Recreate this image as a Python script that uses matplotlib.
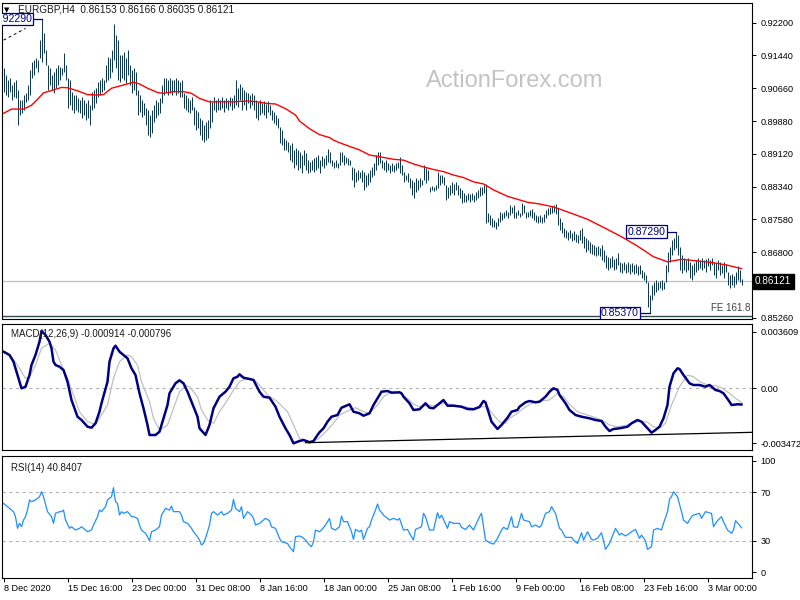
import matplotlib
matplotlib.use('Agg')
import matplotlib.pyplot as plt
import matplotlib.transforms as mtransforms

plt.rcParams['font.family'] = ['Liberation Sans', 'DejaVu Sans']

# header
symbol = 'EURGBP,H4'
ohlc_text = '0.86153 0.86166 0.86035 0.86121'
last_price = 0.86121

# H4 bars, high / low in pips (1e-4)
bar_high = [
    9113, 9097, 9085, 9090, 9073, 9080, 9085, 9062, 9038, 9038,
    9050, 9054, 9073, 9109, 9127, 9132, 9137, 9132, 9179, 9229,
    9195, 9156, 9120, 9113, 9097, 9104, 9113, 9120, 9116, 9113,
    9148, 9120, 9090, 9085, 9057, 9050, 9050, 9043, 9038, 9045,
    9038, 9031, 9038, 9026, 9057, 9062, 9066, 9080, 9085, 9090,
    9085, 9120, 9139, 9137, 9156, 9217, 9191, 9179, 9144, 9144,
    9151, 9137, 9156, 9120, 9109, 9113, 9104, 9062, 9050, 9038,
    9031, 9019, 9015, 9003, 9015, 9026, 9038, 9033, 9043, 9073,
    9090, 9090, 9085, 9090, 9085, 9085, 9090, 9085, 9080, 9085,
    9054, 9050, 9043, 9038, 9045, 9022, 9015, 9010, 8996, 8991,
    8979, 8986, 8991, 9038, 9033, 9045, 9038, 9043, 9038, 9045,
    9038, 9043, 9038, 9045, 9043, 9050, 9085, 9066, 9076, 9069,
    9062, 9057, 9054, 9050, 9054, 9050, 9038, 9033, 9038, 9031,
    9036, 9029, 9036, 9026, 9015, 9010, 9003, 8996, 8975, 8968,
    8949, 8944, 8939, 8932, 8937, 8921, 8925, 8921, 8916, 8909,
    8921, 8913, 8897, 8892, 8897, 8902, 8904, 8909, 8897, 8906,
    8902, 8909, 8923, 8916, 8897, 8892, 8897, 8890, 8916, 8916,
    8909, 8904, 8902, 8897, 8881, 8878, 8869, 8874, 8869, 8874,
    8869, 8862, 8866, 8874, 8881, 8890, 8909, 8916, 8916, 8897,
    8892, 8897, 8890, 8885, 8890, 8885, 8890, 8892, 8904, 8885,
    8869, 8862, 8866, 8855, 8850, 8845, 8855, 8850, 8855, 8850,
    8885, 8878, 8874, 8834, 8836, 8834, 8838, 8869, 8862, 8862,
    8857, 8838, 8834, 8838, 8845, 8841, 8845, 8838, 8831, 8827,
    8819, 8815, 8819, 8817, 8819, 8815, 8822, 8827, 8834, 8834,
    8838, 8841, 8772, 8768, 8761, 8756, 8751, 8761, 8775, 8772,
    8775, 8780, 8775, 8791, 8787, 8791, 8775, 8780, 8772, 8796,
    8791, 8775, 8775, 8780, 8782, 8775, 8768, 8765, 8768, 8763,
    8770, 8780, 8784, 8787, 8789, 8791, 8794, 8784, 8761, 8751,
    8737, 8733, 8728, 8733, 8725, 8730, 8723, 8721, 8733, 8737,
    8718, 8714, 8709, 8704, 8700, 8697, 8693, 8695, 8690, 8697,
    8686, 8674, 8669, 8667, 8671, 8664, 8667, 8678, 8657, 8655,
    8657, 8653, 8657, 8653, 8655, 8650, 8653, 8648, 8650, 8639,
    8634, 8627, 8610, 8580, 8603, 8610, 8615, 8610, 8613, 8615,
    8610, 8650, 8681, 8693, 8709, 8714, 8729, 8721, 8693, 8674,
    8667, 8662, 8667, 8657, 8650, 8655, 8662, 8667, 8662, 8667,
    8662, 8664, 8667, 8662, 8667, 8657, 8655, 8662, 8657, 8650,
    8657, 8653, 8634, 8627, 8629, 8624, 8634, 8648, 8639, 8617,
]
bar_low = [
    9057, 9050, 9045, 9057, 9038, 9045, 9043, 8979, 9003, 9007,
    9015, 9033, 9038, 9050, 9090, 9097, 9113, 9104, 9137, 9127,
    9148, 9120, 9062, 9073, 9062, 9054, 9066, 9073, 9085, 9097,
    9104, 9085, 9019, 9026, 9015, 9007, 9015, 9010, 9007, 8996,
    9003, 8991, 8996, 8979, 9015, 9019, 9031, 9045, 9050, 9057,
    9062, 9080, 9085, 9090, 9104, 9132, 9113, 9085, 9080, 9090,
    9085, 9078, 9097, 9073, 9054, 9062, 9050, 9003, 9010, 8998,
    9003, 8979, 8956, 8951, 8960, 8986, 8996, 9003, 9007, 9031,
    9050, 9057, 9050, 9054, 9050, 9057, 9050, 9054, 9045, 9045,
    9019, 9015, 9010, 9007, 9015, 8979, 8968, 8972, 8956, 8944,
    8939, 8944, 8949, 8972, 8986, 9015, 9010, 9015, 9015, 9019,
    9010, 9019, 9015, 9024, 9015, 9019, 9026, 9022, 9038, 9015,
    9026, 9015, 9031, 9019, 9026, 9015, 8996, 8991, 9003, 9007,
    9003, 8996, 9010, 9003, 8991, 8984, 8979, 8972, 8937, 8932,
    8921, 8921, 8916, 8897, 8892, 8878, 8885, 8874, 8878, 8866,
    8885, 8874, 8866, 8869, 8874, 8869, 8874, 8878, 8866, 8883,
    8878, 8885, 8892, 8890, 8883, 8878, 8881, 8878, 8885, 8892,
    8885, 8890, 8885, 8885, 8850, 8834, 8845, 8850, 8855, 8845,
    8827, 8834, 8838, 8845, 8857, 8862, 8874, 8885, 8890, 8878,
    8874, 8869, 8874, 8866, 8871, 8869, 8874, 8878, 8866, 8862,
    8845, 8850, 8845, 8831, 8815, 8808, 8822, 8827, 8834, 8838,
    8850, 8843, 8850, 8822, 8827, 8824, 8827, 8831, 8838, 8843,
    8838, 8803, 8808, 8815, 8819, 8815, 8827, 8815, 8808, 8796,
    8798, 8798, 8803, 8798, 8803, 8798, 8803, 8808, 8812, 8815,
    8819, 8749, 8751, 8744, 8740, 8740, 8735, 8742, 8751, 8756,
    8761, 8765, 8761, 8768, 8772, 8761, 8761, 8768, 8763, 8768,
    8772, 8761, 8763, 8765, 8761, 8756, 8751, 8749, 8751, 8749,
    8751, 8761, 8768, 8770, 8772, 8775, 8770, 8744, 8733, 8725,
    8716, 8714, 8709, 8714, 8707, 8709, 8704, 8702, 8709, 8702,
    8690, 8681, 8686, 8678, 8676, 8674, 8671, 8674, 8671, 8662,
    8657, 8643, 8639, 8643, 8646, 8639, 8641, 8650, 8634, 8631,
    8639, 8631, 8634, 8629, 8634, 8629, 8631, 8627, 8629, 8620,
    8615, 8608, 8552, 8537, 8568, 8580, 8587, 8592, 8596, 8592,
    8594, 8610, 8634, 8657, 8674, 8686, 8690, 8674, 8639, 8631,
    8639, 8634, 8639, 8620, 8615, 8627, 8634, 8639, 8643, 8639,
    8643, 8634, 8648, 8639, 8650, 8627, 8620, 8639, 8627, 8631,
    8620, 8634, 8603, 8596, 8603, 8599, 8606, 8615, 8610, 8604,
]

# moving average (red), pips
ma_idx = [0, 4, 10, 14, 17, 20, 25, 29, 32, 37, 42, 47, 50, 54, 58, 65, 68, 72, 77, 80,
          85, 90, 94, 98, 103, 115, 122, 127, 132, 136, 141, 146, 148, 153, 158, 163, 165,
          168, 172, 178, 183, 188, 195, 200, 205, 210, 215, 220, 225, 230, 235, 240, 245,
          252, 257, 262, 268, 275, 284, 292, 300, 309, 317, 325, 332, 339, 347, 355, 362, 369]
ma_val = [9007, 9017, 9017, 9026, 9040, 9055, 9062, 9068, 9067, 9060, 9051, 9050, 9051, 9066,
          9071, 9080, 9076, 9066, 9056, 9054, 9058, 9058, 9054, 9042, 9034, 9034, 9036, 9034,
          9030, 9029, 9018, 9003, 8989, 8971, 8957, 8950, 8944, 8938, 8931, 8921, 8909, 8905,
          8899, 8897, 8888, 8881, 8875, 8870, 8862, 8856, 8846, 8841, 8827, 8812, 8805, 8798,
          8794, 8787, 8772, 8758, 8739, 8717, 8695, 8670, 8658, 8664, 8660, 8656, 8650, 8642]

# swing labels: bar index, price, label right edge (bar units)
swing_idx = [19, 336, 323]
swing_price = [0.92290, 0.87290, 0.85370]
swing_box_right = [14.3, 331.0, 317.7]
fe_level = 0.85307
fe_text = 'FE 161.8'
trend_idx = [0, 11]
trend_price = [0.91790, 0.92065]

# MACD(12,26,9), values in 1e-6
macd_idx = [0, 3, 5, 7, 9, 11, 13, 14, 16, 18, 19, 21, 23, 24, 25, 26, 28, 30, 32, 34, 37, 39,
            42, 44, 46, 48, 49, 52, 53, 55, 56, 58, 60, 62, 64, 66, 68, 70, 72, 73, 76, 78, 80,
            82, 83, 86, 88, 90, 92, 94, 97, 98, 101, 103, 105, 108, 111, 113, 115, 117, 118,
            120, 123, 125, 128, 130, 133, 136, 138, 141, 143, 145, 148, 150, 153, 155, 157,
            158, 160, 162, 164, 167, 169, 173, 175, 178, 180, 183, 185, 188, 189, 192, 194,
            198, 199, 200, 203, 205, 208, 211, 213, 215, 217, 220, 222, 225, 229, 232, 235,
            238, 240, 241, 243, 244, 247, 249, 252, 254, 257, 258, 261, 263, 266, 268, 271,
            273, 275, 277, 278, 281, 283, 286, 289, 293, 296, 299, 301, 303, 305, 308, 312,
            314, 317, 319, 322, 324, 326, 328, 330, 332, 333, 335, 337, 338, 340, 343, 345,
            348, 351, 353, 356, 358, 360, 363, 364, 367, 369]
macd_val = [2052, 1867, 1490, 743, -5, 85, 743, 1305, 1867, 2614, 3216, 2991, 2614, 2243, 1490,
            1305, 1209, 1024, 366, -662, -1601, -1786, -2163, -2219, -1972, -1320, -848, 366,
            1490, 2243, 2389, 2052, 1867, 1681, 1119, 743, -286, -1129, -2067, -2629, -2629,
            -2444, -1691, -943, -286, 276, 445, 276, -196, -758, -1601, -2253, -2629, -2067,
            -1129, -477, -196, 85, 557, 647, 782, 591, 518, 462, -196, -477, -533, -1039,
            -1601, -2253, -2629, -3096, -2966, -2910, -3039, -2966, -2629, -2477, -2253, -1882,
            -1601, -1505, -1095, -904, -1320, -1410, -1545, -1410, -943, -381, -196, -156, -252,
            -229, -286, -477, -848, -1224, -1185, -848, -1095, -1129, -943, -662, -983, -983,
            -1039, -1168, -1185, -1056, -718, -791, -1505, -1882, -2292, -2067, -1657, -1320,
            -1224, -1039, -791, -718, -791, -758, -477, -196, -5, -100, -381, -848, -1224,
            -1505, -1601, -1691, -1786, -1842, -2163, -2404, -2292, -2253, -2163, -1972, -1786,
            -1882, -2253, -2500, -2348, -2163, -1691, -943, 85, 838, 1119, 1080, 743, 276, 181,
            181, 85, 181, -100, -156, -286, -758, -943, -904, -914]
signal_idx = [1, 4, 8, 11, 13, 16, 19, 23, 26, 29, 32, 35, 38, 42, 46, 48, 52, 55, 58, 62, 64,
              67, 69, 73, 75, 78, 82, 85, 88, 91, 93, 97, 99, 102, 105, 108, 112, 115, 118, 122,
              125, 128, 132, 137, 142, 145, 148, 152, 155, 158, 162, 165, 168, 173, 176, 180,
              183, 187, 190, 194, 198, 202, 205, 208, 212, 215, 220, 225, 230, 235, 238, 242,
              245, 248, 251, 253, 257, 260, 264, 268, 273, 277, 280, 283, 287, 292, 297, 300,
              303, 307, 312, 317, 322, 325, 328, 331, 334, 338, 342, 345, 348, 352, 356, 359,
              363, 366, 369]
signal_val = [2052, 1771, 1119, 557, 647, 1305, 2243, 2524, 2148, 1305, 557, -381, -1320, -1882,
              -2028, -1691, -943, 557, 1490, 1867, 1771, 1305, 366, -758, -1691, -2348, -2067,
              -1129, -196, 141, 85, -477, -1224, -1786, -1972, -1320, -662, -100, 366, 557, 518,
              181, -381, -758, -1320, -2067, -2815, -2966, -3006, -2781, -2348, -1972, -1505,
              -1224, -1095, -1320, -1410, -943, -477, -196, -252, -567, -904, -1039, -943, -983,
              -848, -943, -1039, -1129, -1039, -1039, -1505, -1882, -1972, -1691, -1410, -1129,
              -848, -718, -662, -286, -477, -904, -1320, -1505, -1691, -1842, -2067, -2163,
              -2067, -1842, -1915, -2163, -2253, -1972, -943, 85, 743, 647, 366, 181, 141, 29,
              -286, -567, -796]
macd_trend_idx = [151, 375]
macd_trend_val = [-3062, -2477]
macd_label = 'MACD(12,26,9) -0.000914 -0.000796'

# RSI(14)
rsi_idx = [0, 2, 4, 5, 6, 7, 8, 9, 10, 11, 12, 13, 14, 16, 18, 19, 20, 22, 24, 25, 26, 28, 29,
           30, 31, 33, 34, 36, 38, 39, 40, 42, 44, 45, 47, 48, 49, 51, 52, 54, 55, 56, 57, 58,
           59, 60, 62, 64, 65, 67, 68, 69, 71, 72, 73, 74, 76, 78, 79, 81, 83, 84, 85, 88, 89,
           90, 92, 94, 95, 97, 98, 99, 100, 101, 103, 104, 105, 107, 109, 110, 112, 114, 115,
           116, 118, 119, 120, 122, 124, 125, 126, 128, 129, 131, 133, 134, 136, 138, 139, 142,
           143, 145, 146, 148, 149, 151, 153, 154, 155, 156, 158, 159, 161, 163, 164, 166, 168,
           169, 170, 172, 174, 175, 176, 178, 179, 180, 182, 183, 184, 186, 187, 188, 190, 192,
           193, 195, 197, 198, 200, 202, 203, 205, 206, 209, 210, 211, 213, 215, 217, 218, 219,
           222, 223, 225, 228, 229, 231, 233, 235, 238, 239, 241, 243, 245, 247, 249, 250, 252,
           254, 255, 257, 259, 260, 263, 264, 266, 268, 269, 271, 273, 274, 276, 278, 279, 281,
           284, 285, 287, 289, 290, 292, 294, 295, 297, 299, 300, 301, 303, 304, 306, 308, 309,
           311, 313, 314, 316, 318, 319, 321, 322, 324, 325, 327, 329, 330, 332, 333, 334, 335,
           337, 339, 340, 342, 344, 345, 348, 349, 351, 354, 355, 357, 359, 360, 362, 364, 365,
           366, 368, 369]
rsi_val = [60.9, 58.2, 55.4, 54.1, 50.0, 40.4, 44.5, 41.7, 47.2, 50.0, 55.4, 63.7, 62.3, 63.7,
           66.4, 70.5, 66.4, 54.1, 50.0, 44.5, 52.7, 54.1, 54.1, 55.4, 47.2, 40.4, 41.7, 39.0,
           40.4, 41.7, 40.4, 37.6, 39.0, 43.1, 50.0, 55.4, 54.1, 58.2, 63.7, 66.4, 73.8, 62.3,
           60.9, 51.3, 54.1, 52.7, 54.1, 50.0, 50.0, 48.6, 43.1, 39.0, 36.3, 33.5, 30.2, 37.6,
           39.0, 41.7, 51.3, 56.8, 55.4, 58.7, 54.1, 54.1, 51.3, 45.9, 44.5, 40.4, 37.6, 33.5,
           30.8, 26.7, 28.0, 32.2, 43.1, 52.7, 54.1, 51.3, 54.1, 51.3, 52.7, 55.4, 64.2, 56.8,
           54.1, 58.2, 48.6, 54.1, 51.3, 48.6, 43.1, 44.5, 45.9, 48.6, 46.7, 41.7, 40.4, 32.2,
           29.4, 28.0, 25.3, 21.2, 33.5, 34.1, 33.5, 30.8, 26.7, 25.3, 29.4, 39.0, 37.6, 39.0,
           43.1, 48.6, 40.4, 39.0, 41.7, 50.5, 45.9, 45.9, 37.6, 31.3, 39.5, 37.6, 39.0, 31.3,
           40.4, 41.7, 47.2, 55.4, 60.4, 55.4, 51.3, 48.6, 47.2, 48.6, 47.2, 48.6, 39.0, 39.5,
           36.3, 30.8, 39.5, 41.7, 52.7, 50.0, 39.0, 39.0, 53.2, 48.6, 51.3, 40.4, 45.9, 44.5,
           44.5, 41.2, 39.5, 43.1, 39.0, 50.0, 52.7, 30.8, 28.6, 27.5, 32.2, 39.0, 41.2, 39.5,
           50.0, 41.7, 41.2, 52.7, 47.2, 45.9, 41.7, 43.1, 41.2, 43.1, 52.7, 54.1, 58.2, 52.7,
           40.4, 39.0, 33.0, 33.0, 30.8, 28.0, 36.8, 30.8, 37.6, 31.3, 30.8, 32.2, 36.8, 30.2,
           23.1, 28.0, 32.2, 40.4, 34.9, 36.3, 34.1, 36.3, 37.6, 39.5, 32.2, 34.9, 30.2, 23.1,
           25.3, 39.0, 40.4, 39.0, 44.5, 54.1, 64.2, 66.4, 70.5, 66.4, 54.1, 47.2, 44.5, 50.0,
           51.3, 52.7, 48.6, 54.1, 52.7, 41.7, 46.7, 50.0, 45.9, 39.0, 36.3, 39.0, 46.7, 43.1,
           40.8]
rsi_label = 'RSI(14) 40.8407'

# axis labels
price_ticks = [0.92200, 0.91440, 0.90660, 0.89880, 0.89120, 0.88340, 0.87580, 0.86800, 0.85260]
x_ticks = [0, 32, 64, 96, 128, 160, 192, 224, 256, 288, 320, 352]
x_labels = ['8 Dec 2020', '15 Dec 16:00', '23 Dec 00:00', '31 Dec 08:00', '8 Jan 16:00',
            '18 Jan 00:00', '25 Jan 08:00', '1 Feb 16:00', '9 Feb 00:00', '16 Feb 08:00',
            '23 Feb 16:00', '3 Mar 00:00']

W, H = 800, 600
BAR_COL = '#0f3a56'
NAVY = '#000080'
FS = 6.6


def px_axes(top, bottom):
    return [2 / W, 1 - bottom / H, 750 / W, (bottom - top) / H]


fig = plt.figure(figsize=(W / 100, H / 100), dpi=100)
fig.patch.set_facecolor('white')

ax = fig.add_axes(px_axes(3, 319))
ax_m = fig.add_axes(px_axes(324, 450))
ax_r = fig.add_axes(px_axes(455.8, 577.5))

for a in (ax, ax_m, ax_r):
    # 2 px per bar, bars centred on pixel columns
    a.set_xlim(-0.75, 374.25)
    for s in a.spines.values():
        s.set_linewidth(0.8)
        s.set_color('black')
    a.yaxis.tick_right()
    a.tick_params(axis='y', direction='out', length=3, width=0.7, pad=3, labelsize=FS)
    a.set_xticks([])

# ---- price panel ----
idx = list(range(len(bar_high)))
ax.vlines(idx, [v / 10000 for v in bar_low], [v / 10000 for v in bar_high],
          colors=BAR_COL, lw=0.72, zorder=3)
ax.plot(ma_idx, [v / 10000 for v in ma_val], color='red', lw=1.0, zorder=4)
ax.axhline(last_price, color='#c0c0c0', lw=0.9, zorder=1)
ax.axhline(fe_level, color='#2f4f4f', lw=1.0, zorder=2)
ax.plot(trend_idx, trend_price, color='black', lw=0.7, ls=(0, (3, 3)), zorder=2)
ax.set_ylim(0.852364, 0.92663)
ax.set_yticks(price_ticks)
ax.set_yticklabels(['%.5f' % p for p in price_ticks])

for si, sp, sr in zip(swing_idx, swing_price, swing_box_right):
    ax.plot([sr, si], [sp, sp], color=NAVY, lw=0.9, zorder=5)
    ax.text(sr, sp, '%.5f' % sp, ha='right', va='center', fontsize=7.6, color=NAVY,
            zorder=6, clip_on=True,
            bbox=dict(boxstyle='square,pad=0.12', fc='white', ec=NAVY, lw=0.9))

ax.text(373.5, fe_level + 0.0006, fe_text, ha='right', va='bottom', fontsize=FS + 0.4,
        color='#404040')

tr = mtransforms.blended_transform_factory(ax.transAxes, ax.transData)
ax.text(1.004, last_price, '%.5f' % last_price, transform=tr, ha='left', va='center',
        fontsize=FS + 0.6, color='white', clip_on=False,
        bbox=dict(boxstyle='square,pad=0.25', fc='black', ec='black'))

fig.text(4 / W, 1 - 10 / H, '\u25bc', fontsize=5, va='center', ha='left',
         family='DejaVu Sans')
fig.text(18 / W, 1 - 10 / H, symbol + '  ' + ohlc_text, fontsize=FS + 0.6, va='center',
         ha='left', color='#1a1a1a')
fig.text(426 / W, 1 - 87 / H, 'ActionForex.com', fontsize=17, color='#c3c3c3',
         ha='left', va='baseline')

# ---- MACD panel ----
ax_m.axhline(0, color='#b4b4b4', lw=0.8, ls=(0, (3, 3)))
ax_m.plot(signal_idx, [v * 1e-6 for v in signal_val], color='#c0c0c0', lw=0.9)
ax_m.plot(macd_idx, [v * 1e-6 for v in macd_val], color=NAVY, lw=1.8)
ax_m.plot(macd_trend_idx, [v * 1e-6 for v in macd_trend_val], color='black', lw=0.9)
ax_m.set_ylim(-0.003472, 0.003609)
ax_m.set_yticks([0.003176, 0.0, -0.003079])
ax_m.set_yticklabels(['0.003609', '0.00', '-0.003472'])
ax_m.text(0.012, 0.92, macd_label, transform=ax_m.transAxes, fontsize=FS + 0.4,
          ha='left', va='center', color='#1a1a1a')

# ---- RSI panel ----
for lvl in (70, 30):
    ax_r.axhline(lvl, color='#b4b4b4', lw=0.8, ls=(0, (3, 3)))
ax_r.plot(rsi_idx, rsi_val, color='#1e90ff', lw=0.9)
ax_r.set_ylim(0, 100)
ax_r.set_yticks([95.9, 70, 30, 4.3])
ax_r.set_yticklabels(['100', '70', '30', '0'])
ax_r.text(0.012, 0.9, rsi_label, transform=ax_r.transAxes, fontsize=FS + 0.4,
          ha='left', va='center', color='#1a1a1a')
ax_r.set_xticks(x_ticks)
ax_r.set_xticklabels(x_labels, ha='left')
ax_r.tick_params(axis='x', direction='out', length=3, width=0.7, pad=2, labelsize=FS)

fig.savefig('out.png', dpi=100, facecolor='white')
